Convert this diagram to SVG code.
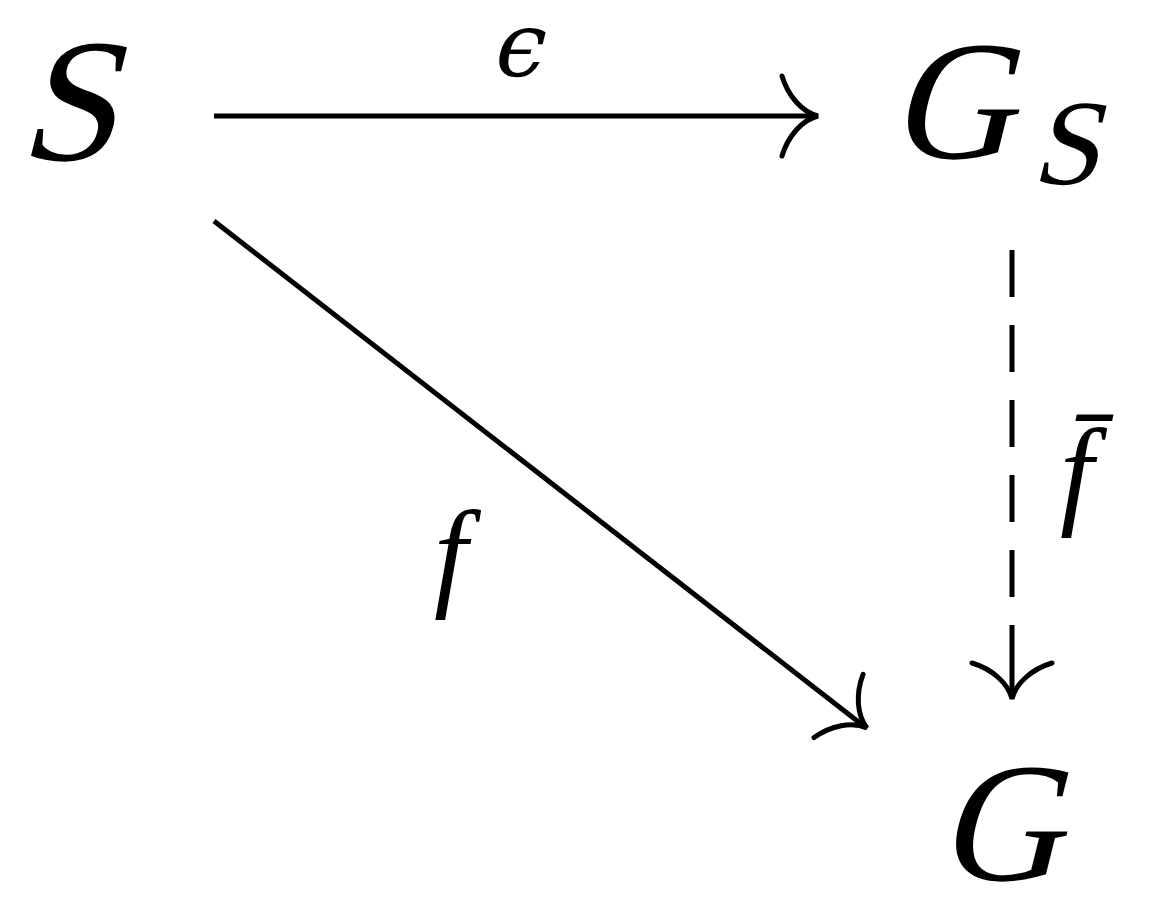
<svg xmlns="http://www.w3.org/2000/svg" width="1153" height="918" viewBox="0 0 1153 918">
<style>
.ln{stroke:#000;stroke-width:5;fill:none}
.tip{stroke:#000;stroke-width:5;fill:none;stroke-linecap:round}
</style>
<defs>
<path id="head" class="tip" d="M-36,-40 C-30,-20 -16,-4 0,0 C-16,4 -30,20 -36,40"/>
</defs>
<rect width="1153" height="918" fill="#fff"/>
<g id="node-S"><g transform="translate(18,160) skewX(-14)"><text font-family="Liberation Serif" font-size="176" fill="#000" x="0" y="0">S</text></g></g>
<g id="node-GS"><g transform="translate(890,158) skewX(-14)"><text font-family="Liberation Serif" font-size="170" fill="#000" x="0" y="0">G</text></g><g transform="translate(1031,184) skewX(-14)"><text font-family="Liberation Serif" font-size="122" fill="#000" x="0" y="0">S</text></g></g>
<g id="node-G"><g transform="translate(938,880) skewX(-14)"><text font-family="Liberation Serif" font-size="170" fill="#000" x="0" y="0">G</text></g></g>
<g id="connectors">
<line class="ln" x1="214" y1="116" x2="816" y2="116"/>
<use href="#head" transform="translate(818,116)"/>
<line class="ln" x1="214" y1="221" x2="865" y2="727"/>
<use href="#head" transform="translate(867,728) rotate(37.8)"/>
<line class="ln" x1="1012" y1="250" x2="1012" y2="697" stroke-dasharray="47 28 47 28 47 28 47 28 47 28 80"/>
<use href="#head" transform="translate(1012,699) rotate(90)"/>
</g>
<g id="labels" fill="#000">
<g transform="translate(490,76) skewX(-14)"><text font-family="DejaVu Serif" font-size="90" x="0" y="0">ϵ</text></g>
<text font-family="Liberation Serif" font-style="italic" font-size="120" x="434" y="594">f</text>
<text font-family="Liberation Serif" font-style="italic" font-size="120" x="1060" y="512">f̄</text>
</g>
</svg>
